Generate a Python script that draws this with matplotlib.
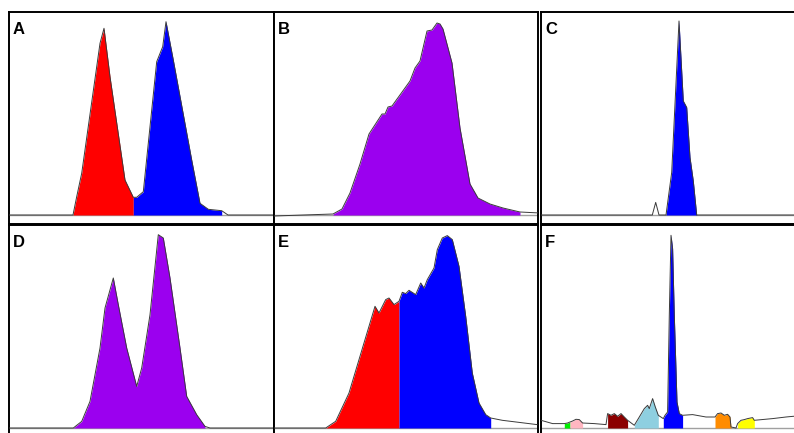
import numpy as np
import matplotlib
matplotlib.use('Agg')
import matplotlib.pyplot as plt

# traces: x = channel, y = height above baseline
a_x = [0, 64, 67.7, 72.7, 91, 95, 101, 116, 124.3, 127.7, 134.3, 147.7, 153.7, 157, 164.3, 182.7, 191, 199.3, 212.7, 219, 265]
a_y = [0, 0, 18.3, 41.7, 171.7, 186.7, 138.3, 35, 17.7, 17.7, 23.3, 153.3, 168.3, 193.3, 155, 55, 11.7, 5.7, 4.3, 0, 0]
a_gates = [(64, 124.3, '#ff0000'), (124.3, 212.7, '#0000ff')]

b_x = [0, 59, 68, 76, 86, 95, 108, 111, 114, 118, 136, 141, 146, 153, 158, 163, 166, 169, 178, 186, 196, 204, 216, 229, 246, 266]
b_y = [-1, 1, 6, 22, 51, 81, 101, 101, 108, 109, 134, 147, 154, 184, 185, 192, 191, 186, 152, 87, 31, 17, 11, 7, 3, 2]
b_gates = [(59, 246, '#9b00ef')]

c_x = [0, 111.3, 114.7, 118, 125, 130.7, 138, 142.3, 145.7, 149, 152.3, 155.7, 259]
c_y = [0, 0, 12.6, 0, 0, 42.6, 194, 114, 107.6, 57.6, 34, 0, 0]
c_gates = [(125, 155.7, '#0000ff')]

d_x = [0, 64.3, 72.7, 81, 91, 96, 104.3, 109.3, 117.7, 127.7, 132.7, 141, 149.3, 154.3, 161, 171, 177.7, 187.7, 196, 201, 265]
d_y = [0, 0, 6.6, 26.6, 80, 120, 150, 123.3, 80, 41.6, 60, 113.3, 193.3, 190, 150, 80, 31.6, 13.3, 1.6, 0, 0]
d_gates = [(64.3, 196, '#9b00ef')]

e_x = [0, 51.7, 61.7, 75, 85, 95, 101, 105, 111.7, 115, 120, 125, 128.3, 131.7, 135, 141.7, 146.7, 150, 153.3, 160,
       163.3, 168.3, 173.3, 178.3, 185, 191.7, 198.3, 205, 211.7, 216.7, 228.3, 263]
e_y = [0, 0, 6.7, 35, 68.4, 101.7, 121.7, 115, 128.4, 130, 123.4, 126.7, 135.7, 134.4, 137.7, 133.4, 145, 140, 148.4, 160,
       178.4, 190, 192.4, 188.4, 161.7, 111.7, 55, 25, 13.4, 10, 7.7, 3.4]
e_gates = [(51.7, 125, '#ff0000'), (125, 216.7, '#0000ff')]

f_x = [0, 11.6, 23.3, 26.6, 29, 31.6, 35, 38.3, 41.6, 53.3, 65, 66.6, 70, 73.3, 76.6, 80, 83.3, 86.6, 93.3, 98.3,
       103.3, 106.6, 108.3, 111.6, 114.3, 117.3, 122.3, 124, 126.6, 128.3, 130, 131.6, 133.3, 136, 138.3, 141.6,
       151.6, 165, 174, 176.6, 180, 183.3, 186.6, 189, 190, 195, 196.6, 200, 203.3, 206.6, 211.6, 213.3, 231.6, 245, 252.3, 259]
f_y = [7.7, 4.4, 4.4, 5, 6, 7, 8.7, 8.4, 5, 4.4, 3.4, 14.4, 12.7, 14.4, 11.7, 14.4, 11, 7.7, 2.7, 11,
       19.4, 22.7, 19.4, 29.4, 21, 12.7, 9.4, 12.7, 16, 112.7, 192.7, 179.4, 112.7, 26, 14.4, 12.7,
       13.4, 11, 11, 14.4, 15, 12.7, 13.7, 11, 1, 0, 4.4, 7.7, 8.4, 9.4, 10.4, 7.7, 9.4, 11, 11.7, 12]
f_gates = [(23.3, 29, '#00ee00'), (29, 41.6, '#ffb6c1'), (66.6, 86.6, '#8b0000'), (93.3, 117.3, '#8ecfe0'),
           (122.3, 141.6, '#0000ff'), (174, 190, '#ff8c00'), (196.6, 213.3, '#ffff00')]

labels = ['A', 'B', 'C', 'D', 'E', 'F']
traces = [(a_x, a_y, a_gates), (b_x, b_y, b_gates), (c_x, c_y, c_gates),
          (d_x, d_y, d_gates), (e_x, e_y, e_gates), (f_x, f_y, f_gates)]

W, H = 794, 433
# panel boxes in pixels: left, top, right, bottom, baseline
boxes = [(9, 12, 274, 224, 215), (274, 12, 538, 224, 215), (541, 12, 800, 224, 215),
         (9, 225, 274, 438, 428), (274, 225, 538, 438, 428), (541, 225, 800, 438, 428)]

fig = plt.figure(figsize=(W / 100, H / 100), dpi=100)

for (l, t, r, b, base), lab, (x, y, gates) in zip(boxes, labels, traces):
    ax = fig.add_axes([l / W, 1 - b / H, (r - l) / W, (b - t) / H])
    x = np.array(x, float)
    y = np.array(y, float)
    ax.set_xlim(0, r - l)
    ax.set_ylim(-(b - base), base - t)
    ax.axhline(0, color='#a0a0a0', lw=1.0, zorder=1)
    for lo, hi, col in gates:
        xs = np.concatenate([[lo], x[(x > lo) & (x < hi)], [hi]])
        ys = np.interp(xs, x, y)
        ax.fill_between(xs, 0, ys, color=col, lw=0, zorder=2)
    ax.plot(x, y, color='#3a3a3a', lw=0.7, zorder=3)
    ax.text(4, base - t - 10, lab, fontsize=12, fontweight='bold', family='Liberation Sans',
            va='top', ha='left')
    ax.set_xticks([])
    ax.set_yticks([])
    for s in ax.spines.values():
        s.set_linewidth(1.4)
        s.set_color('black')

fig.savefig('out.png', dpi=100)
plt.close()
